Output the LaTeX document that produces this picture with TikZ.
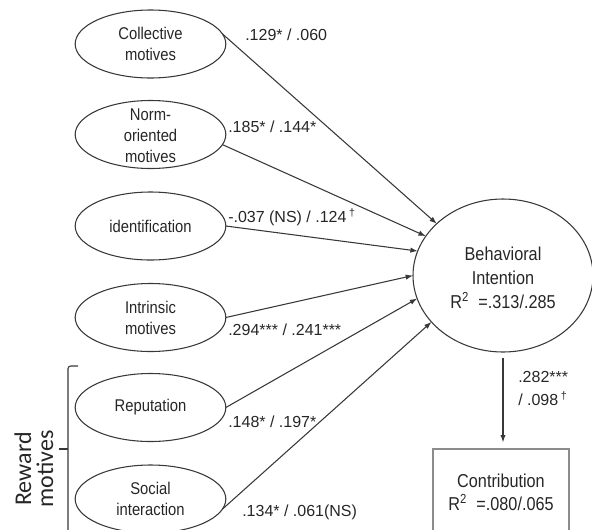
\documentclass[tikz,border=0pt]{standalone}
\usepackage{fontspec}
\setmainfont{Liberation Sans}
\newfontfamily\narrowfont{Liberation Sans}[FakeStretch=0.87]
\newfontfamily\rewardfont{Carlito}
\usetikzlibrary{shapes.geometric,arrows.meta}
\definecolor{ln}{HTML}{383838}
\definecolor{tx}{HTML}{262626}
\definecolor{bx}{HTML}{8C8C8C}
\begin{document}
\begin{tikzpicture}[x=0.75pt,y=-0.75pt,
  ov/.style={draw=ln,line width=0.8pt,ellipse,minimum width=113pt,minimum height=51pt,inner sep=0pt,outer sep=0pt},
  ovtext/.style={text=tx,align=center,inner sep=0pt,font=\narrowfont\fontsize{12.75}{15.75}\selectfont},
  lab/.style={text=tx,anchor=west,inner sep=0pt,font=\fontsize{12}{17.25}\selectfont},
  arr/.style={draw=ln,line width=0.8pt,-{Latex[length=5.5pt,width=4pt]}}]
\useasboundingbox (0,0) rectangle (592,529);
\clip (0,0) rectangle (592,529);

% left ellipses
\node[ov] (coll) at (150.5,44) {};
\node[ovtext] (tcoll) at (coll) {Collective\\motives};
\node[ov] (norm) at (150.5,134.5) {};
\node[ovtext] (tnorm) at (150.5,136) {Norm-\\oriented\\motives};
\node[ov] (iden) at (150.5,226) {};
\node[ovtext] (tiden) at (iden) {identification};
\node[ov] (intr) at (150.5,317.5) {};
\node[ovtext] (tintr) at (intr) {Intrinsic\\motives};
\node[ov] (repu) at (150.5,407.5) {};
\node[ovtext] (trepu) at (repu) {Reputation};
\node[ov] (soci) at (150.5,499) {};
\node[ovtext] (tsoci) at (soci) {Social\\interaction};

% behavioral intention
\node[draw=ln,line width=0.8pt,ellipse,minimum width=135pt,minimum height=114.75pt,inner sep=0pt,outer sep=0pt] (bi) at (503,275.5) {};
\node[text=tx,align=center,inner sep=0pt,font=\narrowfont\fontsize{14}{18}\selectfont] (tbi) at (503,278) {Behavioral\\Intention\\R\textsuperscript{2}\enspace=.313/.285};

% contribution
\node[draw=bx,line width=0.8pt,minimum width=102pt,minimum height=64.5pt,inner sep=0pt,outer sep=0pt,align=center,text=tx,font=\narrowfont\fontsize{14}{17.25}\selectfont] (con) at (501,492) {Contribution\\R\textsuperscript{2}\enspace=.080/.065};

% arrows
\draw[arr] (coll.8) -- (bi.142);
\draw[arr] (norm.-8) -- (bi.153);
\draw[arr] (iden.0) -- (bi.164.5);
\draw[arr] (intr.0) -- (bi.180);
\draw[arr] (repu.0) -- (bi.195);
\draw[arr] (soci.-8) -- (bi.213);
\draw[arr,shorten <=4.5pt,shorten >=5pt] (bi.south) -- (bi.south |- con.north);

% labels
\node[lab] (l1) at (245,35) {.129* / .060};
\node[lab] (l2) at (228,127) {.185* / .144*};
\node[lab] (l3) at (228,217) {-.037 (NS) / .124\,\textsuperscript{†}};
\node[lab] (l4) at (228,330) {.294*** / .241***};
\node[lab] (l5) at (228,422) {.148* / .197*};
\node[lab] (l6) at (242,512) {.134* / .061(NS)};
\node[lab,align=left] (l7) at (518,388.5) {.282***\\/ .098\,\textsuperscript{†}};

% reward bracket
\coordinate (bt) at (78,366);
\coordinate (bc) at (68,366);
\coordinate (bb) at (68,540);
\coordinate (bm) at (68,449);
\coordinate (bl) at (59,449);
\draw[ln,line width=0.8pt,rounded corners=2pt] (bt) -- (bc) -- (bb);
\draw[ln,line width=0.8pt] (bm) -- (bl);
\node[rotate=90,align=center,inner sep=0pt,text=tx,font=\rewardfont\fontsize{18}{16.5}\selectfont] (rw) at (34,469) {Reward\\motives};
\end{tikzpicture}
\end{document}
